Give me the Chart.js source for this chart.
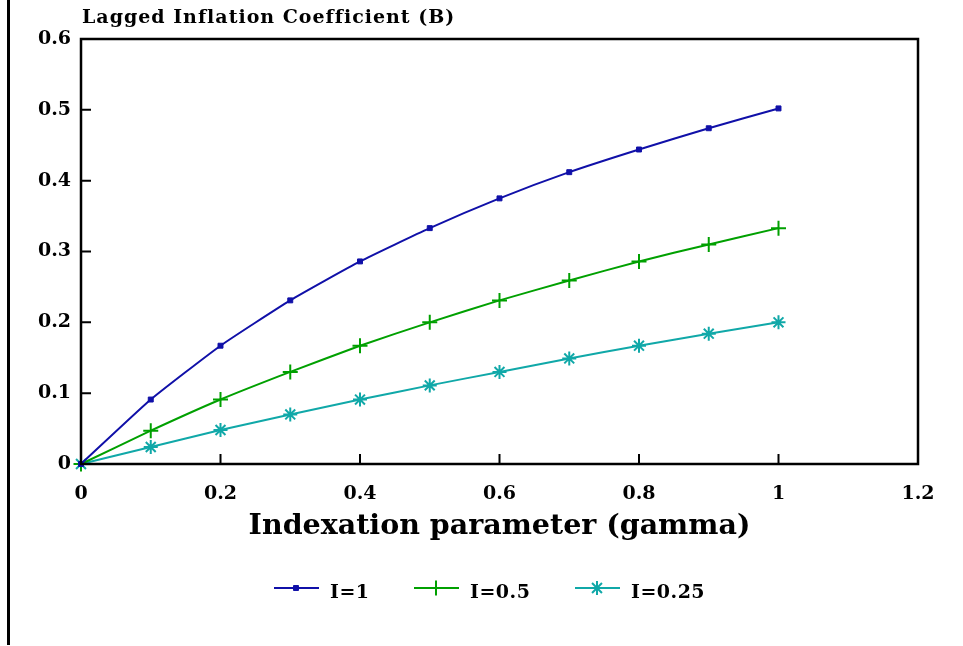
<!DOCTYPE html>
<html lang="en">
<head>
  <meta charset="UTF-8" />
  <title>Lagged Inflation Coefficient</title>
  <script src="https://cdn.jsdelivr.net/npm/chart.js@4.4.0/dist/chart.umd.min.js"></script>
  <style>
    html, body { margin: 0; padding: 0; background: #fff; }
    #wrap { width: 963px; height: 646px; position: relative; }
  </style>
</head>
<body>
  <div id="wrap"><canvas id="chart" width="963" height="646"></canvas></div>

  <script>
    // values
    const gamma = [0, 0.1, 0.2, 0.3, 0.4, 0.5, 0.6, 0.7, 0.8, 0.9, 1];
    const coefI1 = [0, 0.091, 0.167, 0.231, 0.286, 0.333, 0.375, 0.412, 0.444, 0.474, 0.502];
    const coefI05 = [0, 0.047, 0.091, 0.130, 0.167, 0.200, 0.231, 0.259, 0.286, 0.310, 0.333];
    const coefI025 = [0, 0.024, 0.048, 0.070, 0.091, 0.111, 0.130, 0.149, 0.167, 0.184, 0.200];
    const seriesNames = ["I=1", "I=0.5", "I=0.25"];
    const xTicks = [0, 0.2, 0.4, 0.6, 0.8, 1, 1.2];
    const yTicks = [0, 0.1, 0.2, 0.3, 0.4, 0.5, 0.6];

    const FONT = "'DejaVu Serif', serif";
    const colors = ["#1010a8", "#00a000", "#10a8a8"];
    const styles = [
      { pointStyle: "rect", radius: 3.5, border: 1 },
      { pointStyle: "cross", radius: 7.5, border: 2 },
      { pointStyle: "star", radius: 7, border: 2 }
    ];

    const toXY = ys => gamma.map((g, i) => ({ x: g, y: ys[i] }));

    const datasets = [coefI1, coefI05, coefI025].map((ys, i) => ({
      label: seriesNames[i],
      data: toXY(ys),
      borderColor: colors[i],
      backgroundColor: colors[i],
      borderWidth: 2,
      pointStyle: styles[i].pointStyle,
      pointRadius: styles[i].radius,
      pointBorderWidth: styles[i].border,
      pointHoverRadius: styles[i].radius,
      tension: 0.15,
      clip: false
    }));

    // frame, inward ticks, left rule, title and legend
    const decor = {
      id: "decor",
      afterDraw(chart) {
        const ctx = chart.ctx;
        const { left, right, top, bottom } = chart.chartArea;
        const xs = chart.scales.x, ys = chart.scales.y;
        ctx.save();
        ctx.strokeStyle = "#000";
        ctx.lineWidth = 2.5;
        ctx.strokeRect(left, top, right - left, bottom - top);
        ctx.lineWidth = 2;
        ctx.beginPath();
        yTicks.forEach(v => {
          const py = ys.getPixelForValue(v);
          ctx.moveTo(left, py); ctx.lineTo(left + 10, py);
        });
        xTicks.forEach(v => {
          const px = xs.getPixelForValue(v);
          ctx.moveTo(px, bottom); ctx.lineTo(px, bottom - 10);
        });
        ctx.stroke();

        ctx.lineWidth = 3;
        ctx.beginPath();
        ctx.moveTo(8.5, 0); ctx.lineTo(8.5, 645);
        ctx.stroke();

        ctx.fillStyle = "#000";
        ctx.font = "bold 19px " + FONT;
        ctx.letterSpacing = "1px";
        ctx.textAlign = "left";
        ctx.textBaseline = "middle";
        ctx.fillText("Lagged Inflation Coefficient (B)", left + 1, 18);

        const legendX = [274, 414, 575];
        const legendY = 588;
        chart.data.datasets.forEach((ds, i) => {
          const x0 = legendX[i];
          ctx.strokeStyle = ds.borderColor;
          ctx.fillStyle = ds.borderColor;
          ctx.lineWidth = 2;
          ctx.beginPath();
          ctx.moveTo(x0, legendY); ctx.lineTo(x0 + 45, legendY);
          ctx.stroke();
          ctx.lineWidth = ds.pointBorderWidth;
          Chart.helpers.drawPoint(ctx, {
            pointStyle: ds.pointStyle, radius: ds.pointRadius, borderWidth: ds.pointBorderWidth, rotation: 0
          }, x0 + 22, legendY);
          ctx.fillStyle = "#000";
          ctx.font = "bold 19px " + FONT;
          ctx.letterSpacing = "0.5px";
          ctx.fillText(ds.label, x0 + 56, legendY + 5);
        });
        ctx.restore();
      }
    };

    new Chart(document.getElementById("chart"), {
      type: "line",
      data: { datasets },
      plugins: [decor],
      options: {
        responsive: false,
        animation: false,
        events: [],
        layout: { padding: { left: 0, right: 45, top: 39, bottom: 102 } },
        plugins: { legend: { display: false }, tooltip: { enabled: false } },
        scales: {
          x: {
            type: "linear",
            min: 0, max: 1.2,
            afterBuildTicks: s => { s.ticks = xTicks.map(v => ({ value: v })); },
            afterFit: s => { s.height = 80; },
            grid: { display: false, drawTicks: false },
            border: { display: false },
            ticks: { color: "#000", padding: 19, font: { family: FONT, size: 19, weight: "bold" }, callback: v => String(v) },
            title: { display: true, text: "Indexation parameter (gamma)", color: "#000", padding: { top: 6, bottom: 0 }, font: { family: FONT, size: 28.5, weight: "bold" } }
          },
          y: {
            type: "linear",
            min: 0, max: 0.6,
            afterBuildTicks: s => { s.ticks = yTicks.map(v => ({ value: v })); },
            afterFit: s => { s.width = 81; },
            grid: { display: false, drawTicks: false },
            border: { display: false },
            ticks: { color: "#000", padding: 10, font: { family: FONT, size: 19, weight: "bold" }, callback: v => String(v) }
          }
        }
      }
    });
  </script>
</body>
</html>
